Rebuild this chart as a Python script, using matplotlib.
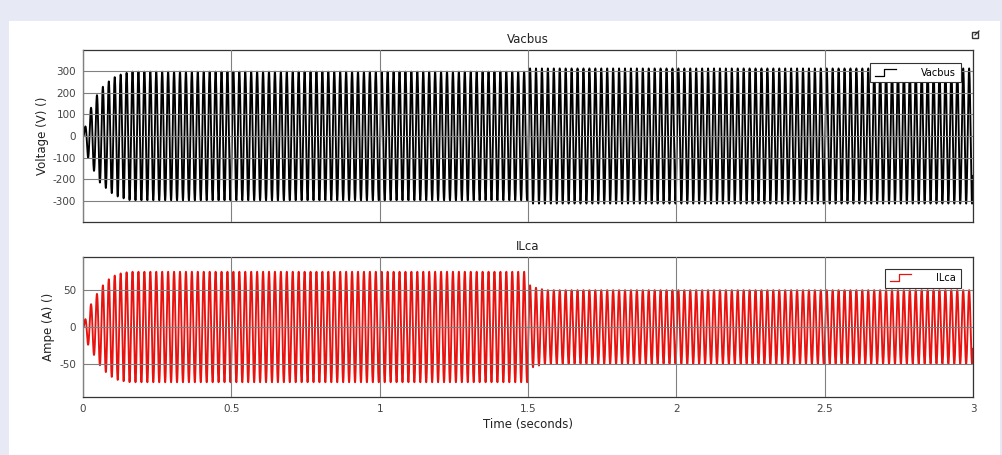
import numpy as np
import matplotlib.pyplot as plt
from matplotlib.patches import Rectangle
from matplotlib.lines import Line2D
from matplotlib.legend_handler import HandlerBase

# waveform envelope keypoints (50 Hz carrier)
freq = 50.0
vac_t = [0, 0.017, 0.04, 0.057, 0.081, 0.098, 0.118, 0.142, 0.16, 1.499, 1.5, 3.0]
vac_amp = [0, 100, 170, 215, 245, 265, 280, 290, 297, 297, 312, 312]
ilca_t = [0, 0.017, 0.04, 0.057, 0.081, 0.098, 0.118, 0.142, 0.16, 1.499, 1.5, 1.52, 1.56, 3.0]
ilca_amp = [0, 24, 40, 52, 63, 68, 72, 74, 75, 75, 58, 54, 50, 50]

xticks = [0, 0.5, 1, 1.5, 2, 2.5, 3]
xticklabels = ['0', '0.5', '1', '1.5', '2', '2.5', '3']
vac_yticks = [-300, -200, -100, 0, 100, 200, 300]
ilca_yticks = [-50, 0, 50]

t = np.arange(0, 3.0, 1e-4)
carrier = np.sin(2 * np.pi * freq * t - 0.6)
vac = np.interp(t, vac_t, vac_amp) * carrier
ilca = np.interp(t, ilca_t, ilca_amp) * carrier


class StepHandler(HandlerBase):
    def create_artists(self, legend, orig, xd, yd, w, h, fontsize, trans):
        xs = [xd, xd + w * 0.45, xd + w * 0.45, xd + w]
        ys = [yd, yd, yd + h, yd + h]
        ln = Line2D(xs, ys, color=orig.get_color(), lw=0.9, transform=trans)
        return [ln]


W, H = 1002, 455
fig = plt.figure(figsize=(10.02, 4.55), dpi=100, facecolor='#e7eaf5')
fig.patches.append(Rectangle((9 / W, 0), 991 / W, 434 / H,
                             transform=fig.transFigure, facecolor='white',
                             edgecolor='none', zorder=-10))

def ax_rect(x0, y0, x1, y1):
    return [x0 / W, 1 - y1 / H, (x1 - x0) / W, (y1 - y0) / H]

ax1 = fig.add_axes(ax_rect(83, 50, 973, 222))
ax2 = fig.add_axes(ax_rect(83, 257, 973, 397))

tc = '#444444'
for ax, y, col, name, yl, yt, lim in [
        (ax1, vac, 'black', 'Vacbus', 'Voltage (V) ()', vac_yticks, 397),
        (ax2, ilca, '#e8120f', 'ILca', 'Ampe (A) ()', ilca_yticks, 95)]:
    ln, = ax.plot(t, y, color=col, lw=1.35, label=name)
    ax.set_xlim(0, 3)
    ax.set_ylim(-lim, lim)
    ax.set_xticks(xticks)
    ax.set_yticks(yt)
    ax.set_yticklabels([str(v) for v in yt])
    ax.grid(True, color='#808080', lw=0.8)
    ax.set_axisbelow(False)
    ax.set_title(name, fontsize=8.5, color='#222222', pad=5)
    ax.set_ylabel(yl, fontsize=8.5, color='#222222', labelpad=3)
    ax.tick_params(labelsize=7.5, colors=tc, length=0, pad=5)
    for s in ax.spines.values():
        s.set_color('#333333')
        s.set_linewidth(0.9)
    leg = ax.legend(handles=[ln], handler_map={Line2D: StepHandler()},
                    loc='upper right', fontsize=7, frameon=True, fancybox=False,
                    borderpad=0.45, handlelength=2.2, handletextpad=2.6,
                    bbox_to_anchor=(0.9915, 0.95))
    leg.get_frame().set_edgecolor('#333333')
    leg.get_frame().set_linewidth(0.8)
    leg.get_frame().set_alpha(1)

ax1.set_xticklabels([])
ax2.set_xticklabels(xticklabels)
ax2.set_xlabel('Time (seconds)', fontsize=8.5, color='#222222', labelpad=3)

# small export icon in the corner (drawn as a shape)
fig.patches.append(Rectangle((972 / W, 1 - 38 / H), 6 / W, 6 / H,
                             transform=fig.transFigure, facecolor='none',
                             edgecolor='#333333', lw=1.0))
fig.lines.append(Line2D([975 / W, 979 / W], [1 - 35 / H, 1 - 31 / H],
                        transform=fig.transFigure, color='#333333', lw=0.9))

fig.savefig('out.png', dpi=100, facecolor=fig.get_facecolor())
